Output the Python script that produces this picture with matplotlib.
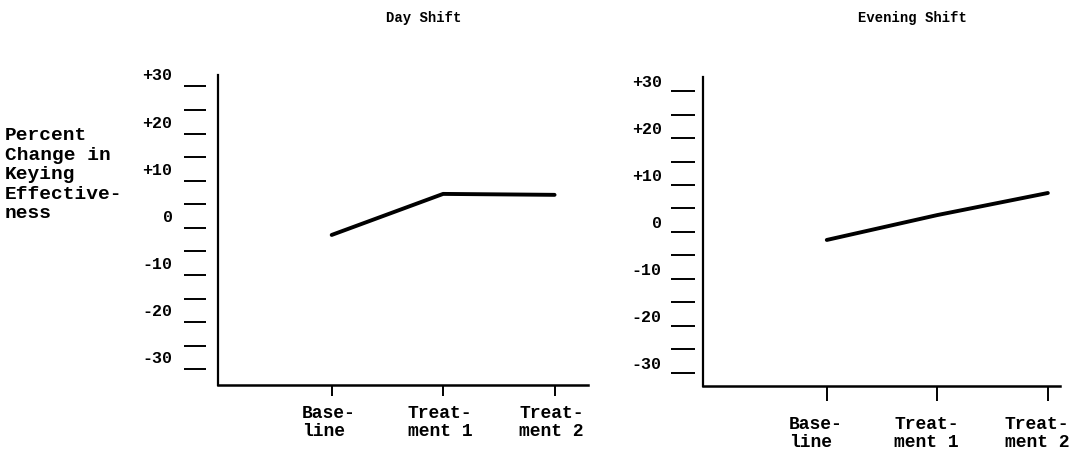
import matplotlib
matplotlib.use('Agg')
import matplotlib.pyplot as plt
from matplotlib.transforms import ScaledTranslation

plt.rcParams['font.family'] = ['Liberation Mono', 'DejaVu Sans Mono']
plt.rcParams['font.weight'] = 'bold'

# data
phases = ['Base-\nline', 'Treat-\nment 1', 'Treat-\nment 2']
day_shift = [-1.5, 7.2, 7.0]
evening_shift = [-1.7, 3.6, 8.3]
y_ticks = list(range(-30, 35, 5))

W, H = 1078, 466
fig = plt.figure(figsize=(W / 100, H / 100), dpi=100)


def px_box(l, t, r, b):
    return [l / W, 1 - b / H, (r - l) / W, (b - t) / H]


def tick_text(v):
    if v % 10:
        return ''
    return '+%d' % v if v > 0 else '%d' % v


def setup(ax, values, xlim, ylim, gap, ylen, ypad, shift, xlen, xpad, xshift):
    x = range(len(phases))
    ax.plot(x, values, color='black', lw=2.8, solid_capstyle='round')
    ax.set_xlim(*xlim)
    ax.set_ylim(*ylim)

    for s in ['top', 'right']:
        ax.spines[s].set_visible(False)
    # y axis: ticks stand off from the axis line
    ax.spines['left'].set_position(('outward', gap))
    ax.spines['left'].set_visible(False)
    ax.axvline(xlim[0], color='black', lw=1.6, clip_on=False)
    ax.spines['bottom'].set_linewidth(1.8)

    ax.set_yticks(y_ticks)
    ax.set_yticklabels([tick_text(v) for v in y_ticks], fontsize=12)
    ax.tick_params(axis='y', direction='out', length=ylen * 0.72,
                   width=1.4, pad=ypad * 0.72)
    off = ScaledTranslation(0, shift / 100, fig.dpi_scale_trans)
    for lab in ax.get_yticklabels():
        lab.set_transform(lab.get_transform() + off)

    ax.set_xticks(list(x))
    ax.set_xticklabels(phases, fontsize=13, linespacing=1.1,
                       multialignment='left')
    ax.tick_params(axis='x', direction='out', length=xlen * 0.72,
                   width=1.4, pad=xpad * 0.72)
    off = ScaledTranslation(xshift / 100, 0, fig.dpi_scale_trans)
    for lab in ax.get_xticklabels():
        lab.set_transform(lab.get_transform() + off)


ax1 = fig.add_axes(px_box(218, 75, 588, 385))
setup(ax1, day_shift, (-1.02, 2.30), (-33.3, 32.4), 9, 22, 11, 12, 11, 9, -3)

ax2 = fig.add_axes(px_box(703, 77, 1060, 386))
setup(ax2, evening_shift, (-1.12, 2.11), (-32.8, 33.0), 6, 24, 9, 10, 15, 15, -11)

fig.text(424 / W, 1 - 18 / H, 'Day Shift', ha='center', va='center', fontsize=10)
fig.text(912 / W, 1 - 18 / H, 'Evening Shift', ha='center', va='center', fontsize=10)

fig.text(5 / W, 1 - 127 / H, 'Percent\nChange in\nKeying\nEffective-\nness',
         ha='left', va='top', fontsize=14, linespacing=1.2)

fig.savefig('out.png', dpi=100)
